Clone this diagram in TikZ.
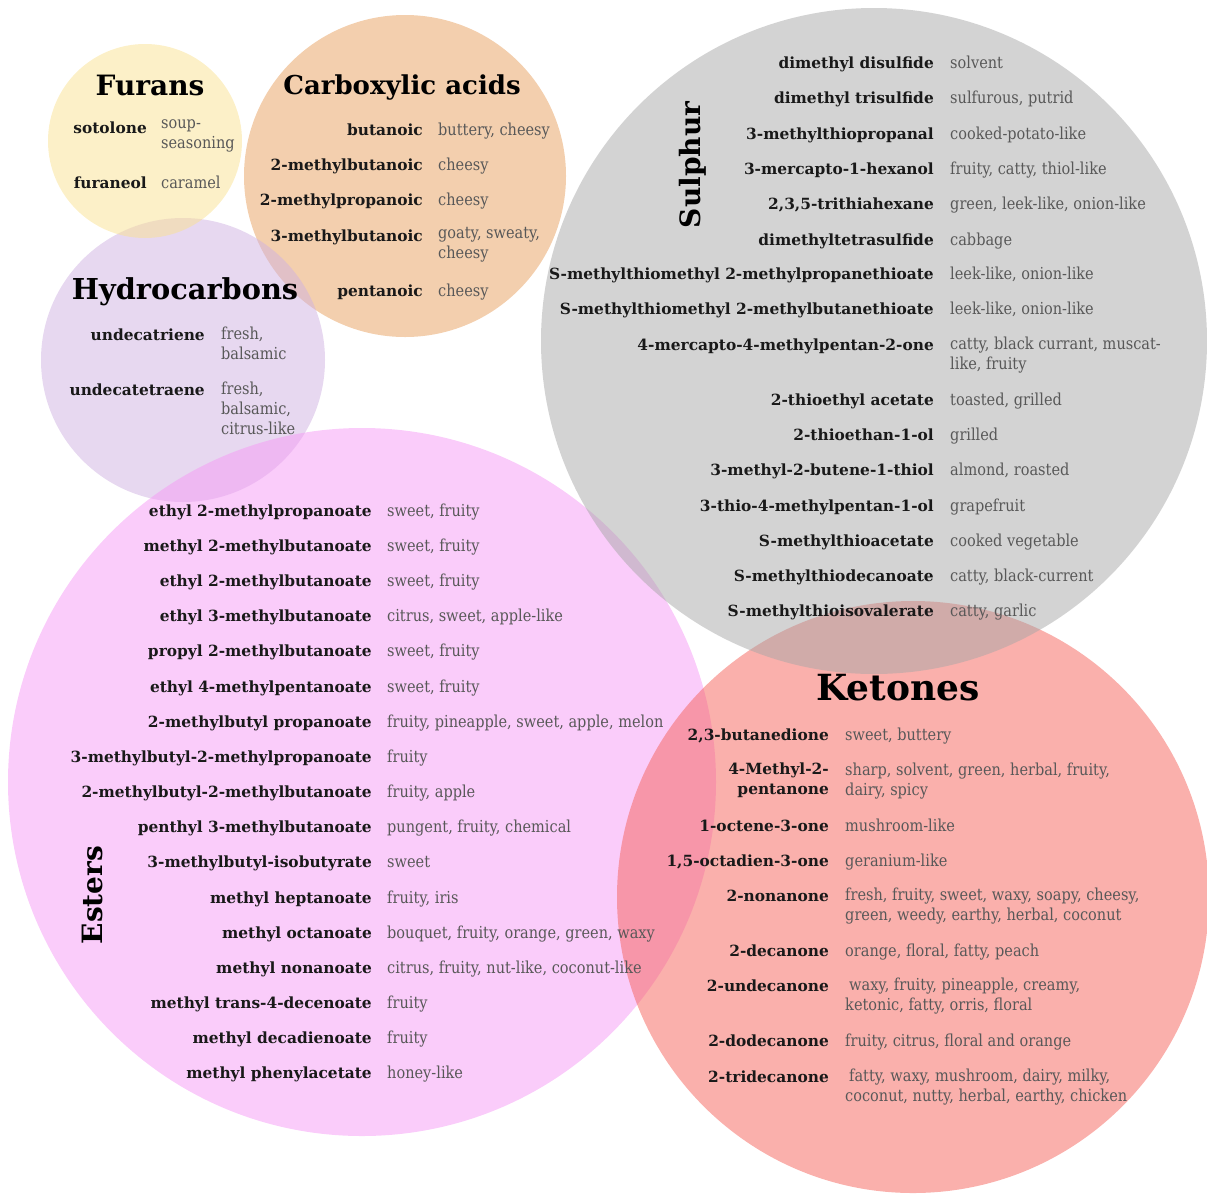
\documentclass[tikz,border=0pt]{standalone}
\usepackage{fontspec}
\setmainfont{DejaVu Serif}
\newfontfamily\odourfont[FakeStretch=0.88]{DejaVu Serif}

\begin{document}
\begin{tikzpicture}[x=1pt,y=-1pt,
    group/.style={fill opacity=.5,draw=none},
    title/.style={font=\bfseries\fontsize{28}{30}\selectfont,text=black,inner sep=0},
    cmpd/.style={anchor=north east,inner sep=0,yshift=8.5pt,align=right,
        font=\bfseries\fontsize{15.4}{20}\selectfont,text=black!90,
        execute at begin node=\strut},
    odour/.style={anchor=north west,inner sep=0,yshift=8.5pt,align=left,
        font=\odourfont\fontsize{16.5}{20}\selectfont,text=odourcolor,
        execute at begin node=\strut}]

    \definecolor{odourcolor}{RGB}{88,88,88}
    \definecolor{furancolor}{RGB}{249,225,145}
    \definecolor{acidcolor}{RGB}{231,159,93}
    \definecolor{hydrocolor}{RGB}{207,177,225}
    \definecolor{sulphurcolor}{RGB}{167,167,167}
    \definecolor{estercolor}{RGB}{245,153,245}
    \definecolor{ketonecolor}{RGB}{245,97,89}

    \clip (0,0) rectangle (1207,1195);

    % The six groups
    \fill[group,acidcolor] (405,176) circle[radius=161pt];
    \fill[group,hydrocolor] (183,360) circle[radius=142pt];
    \fill[group,furancolor] (145,141) circle[radius=97pt];
    \fill[group,estercolor] (362,782) circle[radius=354pt];
    \fill[group,ketonecolor] (913,897) circle[radius=296pt];
    \fill[group,sulphurcolor] (874,341) circle[radius=333pt];

    % Furans
    \node[title] (furans) at (150,85) {Furans};
    \node[cmpd] (fur1) at (147,128) {sotolone};
    \node[odour] (fur1o) at (161,128) {soup-\\seasoning};
    \node[cmpd] (fur2) at (147,183) {furaneol};
    \node[odour] (fur2o) at (161,183) {caramel};

    % Carboxylic acids
    \node[title,font=\bfseries\fontsize{26}{30}\selectfont] (acids) at (402,88) {Carboxylic acids};
    \node[cmpd] (acid1) at (423,130) {butanoic};
    \node[odour] (acid1o) at (438,130) {buttery, cheesy};
    \node[cmpd] (acid2) at (423,165) {2-methylbutanoic};
    \node[odour] (acid2o) at (438,165) {cheesy};
    \node[cmpd] (acid3) at (423,200) {2-methylpropanoic};
    \node[odour] (acid3o) at (438,200) {cheesy};
    \node[cmpd] (acid4) at (423,236) {3-methylbutanoic};
    \node[odour] (acid4o) at (438,236) {goaty, sweaty,\\cheesy};
    \node[cmpd] (acid5) at (423,291) {pentanoic};
    \node[odour] (acid5o) at (438,291) {cheesy};

    % Hydrocarbons
    \node[title,font=\bfseries\fontsize{28.8}{30}\selectfont] (hydro) at (185,292) {Hydrocarbons};
    \node[cmpd] (hyd1) at (205,335) {undecatriene};
    \node[odour] (hyd1o) at (221,335) {fresh,\\balsamic};
    \node[cmpd] (hyd2) at (205,390) {undecatetraene};
    \node[odour] (hyd2o) at (221,390) {fresh,\\balsamic,\\citrus-like};

    % Sulphur
    \node[title,rotate=90] (sulphur) at (693,165) {Sulphur};
    \node[cmpd] (sul1) at (934,63) {dimethyl disulfide};
    \node[odour] (sul1o) at (950,63) {solvent};
    \node[cmpd] (sul2) at (934,98) {dimethyl trisulfide};
    \node[odour] (sul2o) at (950,98) {sulfurous, putrid};
    \node[cmpd] (sul3) at (934,134) {3-methylthiopropanal};
    \node[odour] (sul3o) at (950,134) {cooked-potato-like};
    \node[cmpd] (sul4) at (934,169) {3-mercapto-1-hexanol};
    \node[odour] (sul4o) at (950,169) {fruity, catty, thiol-like};
    \node[cmpd] (sul5) at (934,204) {2,3,5-trithiahexane};
    \node[odour] (sul5o) at (950,204) {green, leek-like, onion-like};
    \node[cmpd] (sul6) at (934,240) {dimethyltetrasulfide};
    \node[odour] (sul6o) at (950,240) {cabbage};
    \node[cmpd] (sul7) at (934,274) {S-methylthiomethyl 2-methylpropanethioate};
    \node[odour] (sul7o) at (950,274) {leek-like, onion-like};
    \node[cmpd] (sul8) at (934,309) {S-methylthiomethyl 2-methylbutanethioate};
    \node[odour] (sul8o) at (950,309) {leek-like, onion-like};
    \node[cmpd] (sul9) at (934,345) {4-mercapto-4-methylpentan-2-one};
    \node[odour] (sul9o) at (950,345) {catty, black currant, muscat-\\like, fruity};
    \node[cmpd] (sul10) at (934,400) {2-thioethyl acetate};
    \node[odour] (sul10o) at (950,400) {toasted, grilled};
    \node[cmpd] (sul11) at (934,435) {2-thioethan-1-ol};
    \node[odour] (sul11o) at (950,435) {grilled};
    \node[cmpd] (sul12) at (934,470) {3-methyl-2-butene-1-thiol};
    \node[odour] (sul12o) at (950,470) {almond, roasted};
    \node[cmpd] (sul13) at (934,506) {3-thio-4-methylpentan-1-ol};
    \node[odour] (sul13o) at (950,506) {grapefruit};
    \node[cmpd] (sul14) at (934,541) {S-methylthioacetate};
    \node[odour] (sul14o) at (950,541) {cooked vegetable};
    \node[cmpd] (sul15) at (934,576) {S-methylthiodecanoate};
    \node[odour] (sul15o) at (950,576) {catty, black-current};
    \node[cmpd] (sul16) at (934,611) {S-methylthioisovalerate};
    \node[odour] (sul16o) at (950,611) {catty, garlic};

    % Esters
    \node[title,rotate=90] (esters) at (92,895) {Esters};
    \node[cmpd] (est1) at (372,511) {ethyl 2-methylpropanoate};
    \node[odour] (est1o) at (387,511) {sweet, fruity};
    \node[cmpd] (est2) at (372,546) {methyl 2-methylbutanoate};
    \node[odour] (est2o) at (387,546) {sweet, fruity};
    \node[cmpd] (est3) at (372,581) {ethyl 2-methylbutanoate};
    \node[odour] (est3o) at (387,581) {sweet, fruity};
    \node[cmpd] (est4) at (372,616) {ethyl 3-methylbutanoate};
    \node[odour] (est4o) at (387,616) {citrus, sweet, apple-like};
    \node[cmpd] (est5) at (372,651) {propyl 2-methylbutanoate};
    \node[odour] (est5o) at (387,651) {sweet, fruity};
    \node[cmpd] (est6) at (372,687) {ethyl 4-methylpentanoate};
    \node[odour] (est6o) at (387,687) {sweet, fruity};
    \node[cmpd] (est7) at (372,722) {2-methylbutyl propanoate};
    \node[odour] (est7o) at (387,722) {fruity, pineapple, sweet, apple, melon};
    \node[cmpd] (est8) at (372,757) {3-methylbutyl-2-methylpropanoate};
    \node[odour] (est8o) at (387,757) {fruity};
    \node[cmpd] (est9) at (372,792) {2-methylbutyl-2-methylbutanoate};
    \node[odour] (est9o) at (387,792) {fruity, apple};
    \node[cmpd] (est10) at (372,827) {penthyl 3-methylbutanoate};
    \node[odour] (est10o) at (387,827) {pungent, fruity, chemical};
    \node[cmpd] (est11) at (372,862) {3-methylbutyl-isobutyrate};
    \node[odour] (est11o) at (387,862) {sweet};
    \node[cmpd] (est12) at (372,898) {methyl heptanoate};
    \node[odour] (est12o) at (387,898) {fruity, iris};
    \node[cmpd] (est13) at (372,933) {methyl octanoate};
    \node[odour] (est13o) at (387,933) {bouquet, fruity, orange, green, waxy};
    \node[cmpd] (est14) at (372,968) {methyl nonanoate};
    \node[odour] (est14o) at (387,968) {citrus, fruity, nut-like, coconut-like};
    \node[cmpd] (est15) at (372,1003) {methyl trans-4-decenoate};
    \node[odour] (est15o) at (387,1003) {fruity};
    \node[cmpd] (est16) at (372,1038) {methyl decadienoate};
    \node[odour] (est16o) at (387,1038) {fruity};
    \node[cmpd] (est17) at (372,1073) {methyl phenylacetate};
    \node[odour] (est17o) at (387,1073) {honey-like};

    % Ketones
    \node[title,font=\bfseries\fontsize{36}{38}\selectfont] (ketones) at (898,688) {Ketones};
    \node[cmpd] (ket1) at (829,735) {2,3-butanedione};
    \node[odour] (ket1o) at (845,735) {sweet, buttery};
    \node[cmpd] (ket2) at (829,771) {4-Methyl-2-\\pentanone};
    \node[odour] (ket2o) at (845,771) {sharp, solvent, green, herbal, fruity,\\dairy, spicy};
    \node[cmpd] (ket3) at (829,826) {1-octene-3-one};
    \node[odour] (ket3o) at (845,826) {mushroom-like};
    \node[cmpd] (ket4) at (829,861) {1,5-octadien-3-one};
    \node[odour] (ket4o) at (845,861) {geranium-like};
    \node[cmpd] (ket5) at (829,896) {2-nonanone};
    \node[odour] (ket5o) at (845,896) {fresh, fruity, sweet, waxy, soapy, cheesy,\\green, weedy, earthy, herbal, coconut};
    \node[cmpd] (ket6) at (829,951) {2-decanone};
    \node[odour] (ket6o) at (845,951) {orange, floral, fatty, peach};
    \node[cmpd] (ket7) at (829,986) {2-undecanone};
    \node[odour] (ket7o) at (845,986) {\hspace{4pt}waxy, fruity, pineapple, creamy,\\ketonic, fatty, orris, floral};
    \node[cmpd] (ket8) at (829,1041) {2-dodecanone};
    \node[odour] (ket8o) at (845,1041) {fruity, citrus, floral and orange};
    \node[cmpd] (ket9) at (829,1077) {2-tridecanone};
    \node[odour] (ket9o) at (845,1077) {\hspace{4pt}fatty, waxy, mushroom, dairy, milky,\\coconut, nutty, herbal, earthy, chicken};

\end{tikzpicture}
\end{document}
